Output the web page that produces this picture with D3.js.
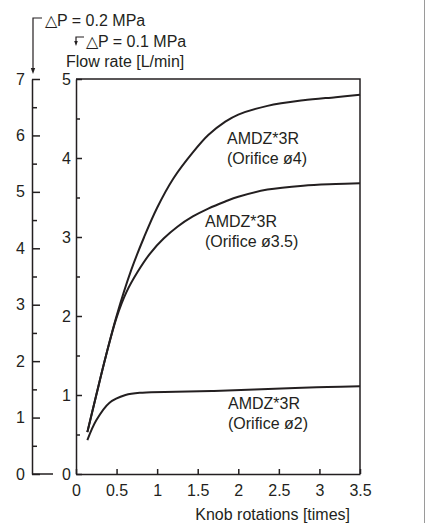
<!DOCTYPE html>
<html><head><meta charset="utf-8">
<script src="https://cdn.jsdelivr.net/npm/d3@7"></script>
<style>
body{margin:0;background:#fff;}
text{font-family:"Liberation Sans",Arial,sans-serif;font-size:16px;fill:#231f20;}
</style></head>
<body><svg id="c" width="427" height="523"></svg>
<script>
// Data
const xTicks = [0,0.5,1,1.5,2,2.5,3,3.5];
const xTickLabels = ["0","0.5","1","1.5","2","2.5","3","3.5"];
const innerTicks = [0,1,2,3,4,5];
const innerMinor = [0.5,1.5,2.5,3.5,4.5];
const outerTicks = [0,1,2,3,4,5,6,7];
const outerMinor = [0.5,1.5,2.5,3.5,4.5,5.5,6.5];
const seriesNames = ["AMDZ*3R (Orifice ø4)","AMDZ*3R (Orifice ø3.5)","AMDZ*3R (Orifice ø2)"];
const rot4  = [0.14,0.25,0.37,0.5,0.68,0.84,1.0,1.2,1.44,1.63,1.84,2.0,2.36,2.8,3.2,3.5];
const flow4 = [0.53,1.0,1.5,2.0,2.58,3.0,3.37,3.74,4.07,4.29,4.46,4.55,4.66,4.73,4.77,4.80];
const rot35  = [0.14,0.25,0.37,0.5,0.62,0.76,0.92,1.08,1.25,1.44,1.63,1.84,2.0,2.36,2.8,3.2,3.5];
const flow35 = [0.53,1.0,1.5,1.98,2.3,2.56,2.8,2.98,3.13,3.26,3.36,3.45,3.51,3.6,3.65,3.67,3.68];
const rot2  = [0.14,0.25,0.41,0.61,0.82,1.23,1.7,2.2,2.7,3.1,3.5];
const flow2 = [0.43,0.68,0.9,1.0,1.03,1.04,1.05,1.07,1.09,1.1,1.11];

const svg = d3.select("#c");
const ink = "#231f20";
const FONT = '"Liberation Sans",Arial,sans-serif';
const x = d3.scaleLinear([0,3.5],[76,360]);
const yIn = d3.scaleLinear([0,5],[474,79]);
const yOut = d3.scaleLinear([0,7],[474,79]);

// right page edge line
svg.append("line").attr("x1",424.5).attr("x2",424.5).attr("y1",0).attr("y2",523)
  .attr("stroke","#9a9a9a").attr("stroke-width",1);

function styleAxis(g){
  g.selectAll("path,line").attr("stroke",ink).attr("stroke-width",1.5);
  g.selectAll("text").attr("fill",ink).attr("font-size",16).attr("font-family",FONT);
}

// x axis
const gx = svg.append("g").attr("transform","translate(0,474)")
  .call(d3.axisBottom(x).tickValues(xTicks).tickFormat((d,i)=>xTickLabels[i]).tickSizeInner(-5).tickSizeOuter(0).tickPadding(11));
styleAxis(gx);

// inner y axis
const gyi = svg.append("g").attr("transform","translate(76,0)")
  .call(d3.axisLeft(yIn).tickValues(innerTicks).tickFormat(d3.format("d")).tickSizeInner(-6).tickSizeOuter(0).tickPadding(5));
styleAxis(gyi);
const gyim = svg.append("g").attr("transform","translate(76,0)")
  .call(d3.axisLeft(yIn).tickValues(innerMinor).tickFormat("").tickSizeInner(-4).tickSizeOuter(0));
styleAxis(gyim); gyim.select(".domain").remove();

// outer y axis
const gyo = svg.append("g").attr("transform","translate(32,0)")
  .call(d3.axisLeft(yOut).tickValues(outerTicks).tickFormat(d3.format("d")).tickSizeInner(-8).tickSizeOuter(0).tickPadding(7));
styleAxis(gyo);
const gyom = svg.append("g").attr("transform","translate(32,0)")
  .call(d3.axisLeft(yOut).tickValues(outerMinor).tickFormat("").tickSizeInner(-5).tickSizeOuter(0));
styleAxis(gyom); gyom.select(".domain").remove();
svg.append("line").attr("x1",32).attr("x2",53).attr("y1",yOut(0)).attr("y2",yOut(0))
  .attr("stroke",ink).attr("stroke-width",1.5);

// frame top & right
svg.append("path").attr("d",`M${x(0)},${yIn(5)}H${x(3.5)}V${yIn(0)}`)
  .attr("fill","none").attr("stroke",ink).attr("stroke-width",1.5);

// curves
const line = d3.line().x(d=>x(d[0])).y(d=>yIn(d[1])).curve(d3.curveCatmullRom.alpha(0.5));
[[rot4,flow4],[rot35,flow35],[rot2,flow2]].forEach(([r,f])=>{
  svg.append("path").attr("d",line(r.map((v,i)=>[v,f[i]])))
    .attr("fill","none").attr("stroke",ink).attr("stroke-width",2);
});

// series labels
const labels = [
  {lines:["AMDZ*3R","(Orifice ø4)"], x:227, y:144},
  {lines:["AMDZ*3R","(Orifice ø3.5)"], x:205, y:227},
  {lines:["AMDZ*3R","(Orifice ø2)"], x:228, y:409}
];
labels.forEach(l=>{
  const t = svg.append("text").attr("x",l.x).attr("y",l.y);
  l.lines.forEach((s,i)=>t.append("tspan").attr("x",l.x).attr("dy",i?20:0).text(s));
});

// axis titles
svg.append("text").attr("x",350).attr("y",520).attr("text-anchor","end").text("Knob rotations [times]");
svg.append("text").attr("x",66).attr("y",67).text("Flow rate [L/min]");
svg.append("text").attr("x",45).attr("y",26).text("△P = 0.2 MPa");
svg.append("text").attr("x",86).attr("y",47).text("△P = 0.1 MPa");

// pointer arrows
svg.append("path").attr("d","M42,18H33V70").attr("fill","none").attr("stroke",ink).attr("stroke-width",1.2);
svg.append("path").attr("d","M30.8,68L33,74L35.2,68Z").attr("fill",ink);
svg.append("path").attr("d","M84,37H76V42").attr("fill","none").attr("stroke",ink).attr("stroke-width",1.2);
svg.append("path").attr("d","M74.2,41L76,46L77.8,41Z").attr("fill",ink);
</script></body></html>
